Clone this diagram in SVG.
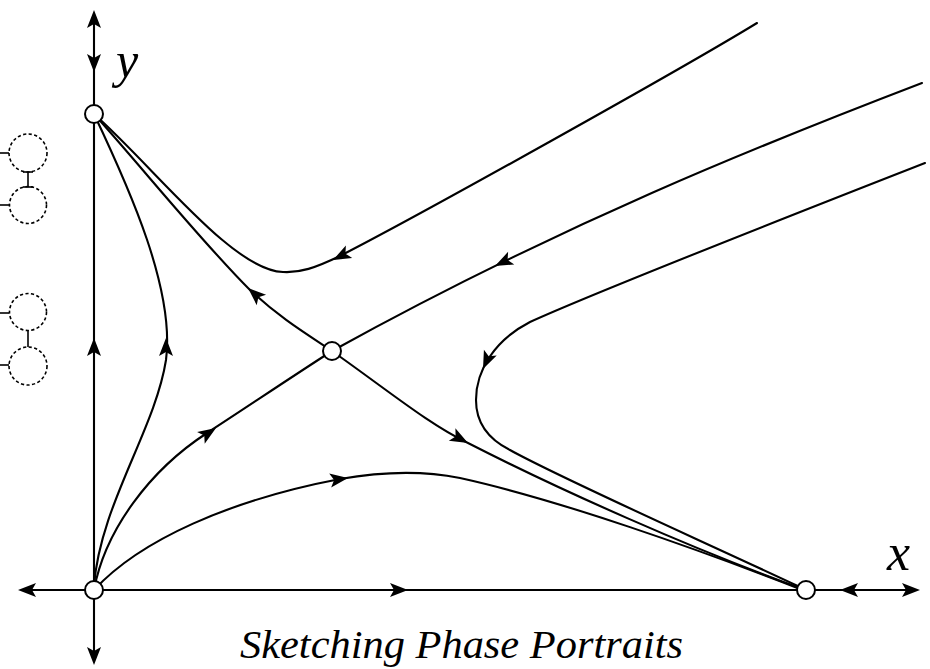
<svg xmlns="http://www.w3.org/2000/svg" xmlns:xlink="http://www.w3.org/1999/xlink" width="930" height="669" viewBox="0 0 930 669">
<style>
.ln{fill:none;stroke:#000;stroke-width:2.1;stroke-linecap:round}
.nd{fill:#fff;stroke:#000;stroke-width:2}
.ds{fill:none;stroke:#000;stroke-width:1.6;stroke-dasharray:3.2 2.4}
.sl{fill:none;stroke:#000;stroke-width:1.6}
.lab{font-family:"Liberation Serif",serif;font-style:italic;fill:#000}
</style>
<defs>
<path id="ah" d="M0,0 L-18,-7 L-14,0 L-18,7 Z" fill="#000"/>
</defs>
<rect width="930" height="669" fill="#fff"/>
<g id="side-marks">
<line class="sl" x1="0" y1="153" x2="9" y2="153"/>
<line class="sl" x1="0" y1="205" x2="9" y2="205"/>
<circle class="ds" cx="28" cy="153" r="19"/>
<circle class="ds" cx="28" cy="205" r="18.5"/>
<line class="sl" x1="28" y1="172" x2="28" y2="187"/>
<line class="sl" x1="23" y1="172" x2="33" y2="172"/>
<line class="sl" x1="23" y1="187" x2="33" y2="187"/>
<line class="sl" x1="0" y1="313" x2="9" y2="313"/>
<line class="sl" x1="0" y1="365" x2="9" y2="365"/>
<circle class="ds" cx="28" cy="312" r="18.5"/>
<circle class="ds" cx="28" cy="366" r="19"/>
<line class="sl" x1="28" y1="330" x2="28" y2="347"/>
</g>
<g id="connectors">
<line class="ln" x1="94" y1="14" x2="94" y2="660"/>
<line class="ln" x1="22" y1="590" x2="916" y2="590"/>
<path class="ln" d="M757,23 C680,70 420,215 340,256 C315,268 300,273 283,272 C232,270 155,168 94,114"/>
<path class="ln" d="M922,83 C760,145 560,225 332,351 C290,378 250,405 207,433 C150,470 105,530 94,590"/>
<path class="ln" d="M94,114 C140,165 200,240 250,290 C280,318 305,333 332,351 C390,392 430,425 468,443 C560,490 690,548 800,588"/>
<path class="ln" d="M925,163 C800,212 600,290 530,322 C495,340 476,370 476,400 C476,425 490,440 510,450 C560,478 700,540 800,587"/>
<path class="ln" d="M94,586 C100,505 155,430 166,360 C175,290 130,190 94,114"/>
<path class="ln" d="M94,590 C140,540 230,500 340,479 C380,472 420,470 460,478 C560,500 700,550 800,589"/>
<use xlink:href="#ah" transform="translate(94,10) rotate(-90)"/>
<use xlink:href="#ah" transform="translate(94,72) rotate(90)"/>
<use xlink:href="#ah" transform="translate(94,338) rotate(-90)"/>
<use xlink:href="#ah" transform="translate(94,665) rotate(90)"/>
<use xlink:href="#ah" transform="translate(18,590) rotate(180)"/>
<use xlink:href="#ah" transform="translate(408,590)"/>
<use xlink:href="#ah" transform="translate(840,590) rotate(180)"/>
<use xlink:href="#ah" transform="translate(920,590)"/>
<use xlink:href="#ah" transform="translate(166,338) rotate(-90)"/>
<use xlink:href="#ah" transform="translate(216,428) rotate(-33)"/>
<use xlink:href="#ah" transform="translate(248,288) rotate(-138)"/>
<use xlink:href="#ah" transform="translate(468,443) rotate(28)"/>
<use xlink:href="#ah" transform="translate(333,260) rotate(153)"/>
<use xlink:href="#ah" transform="translate(495,266) rotate(154)"/>
<use xlink:href="#ah" transform="translate(483,369) rotate(114)"/>
<use xlink:href="#ah" transform="translate(348,478) rotate(-8)"/>
</g>
<g id="node-y"><circle class="nd" cx="94" cy="114" r="9"/></g>
<g id="node-saddle"><circle class="nd" cx="332" cy="351" r="9"/></g>
<g id="node-origin"><circle class="nd" cx="94" cy="590" r="9"/></g>
<g id="node-x"><circle class="nd" cx="806" cy="590" r="9"/></g>
<g id="labels">
<text class="lab" x="116" y="77" font-size="50">y</text>
<text class="lab" x="887" y="570" font-size="52">x</text>
<text class="lab" x="240" y="658" font-size="40" textLength="443" lengthAdjust="spacingAndGlyphs">Sketching Phase Portraits</text>
</g>
</svg>
